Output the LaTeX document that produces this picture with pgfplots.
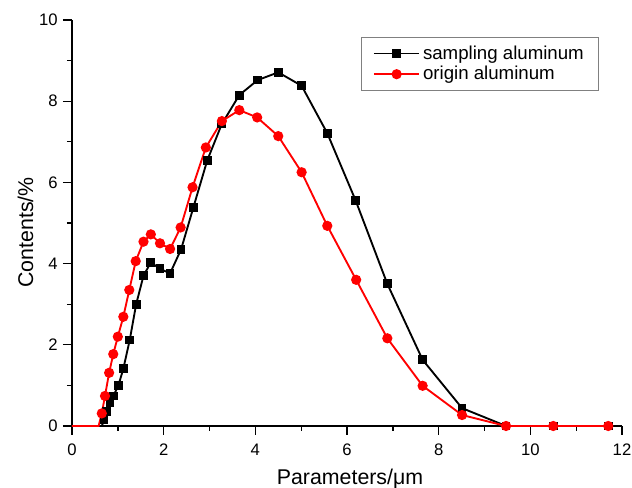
\documentclass[border=0pt]{standalone}
\usepackage{fontspec}
\setmainfont{Liberation Sans}
\usepackage{pgfplots}
\pgfplotsset{compat=1.18}
\begin{document}
\begin{tikzpicture}
\useasboundingbox (-54pt,-46.5pt) rectangle (420pt,319.5pt);
\begin{axis}[
  at={(0,0)}, anchor=south west,
  scale only axis,
  width=412.5pt, height=304.5pt,
  xmin=0, xmax=12, ymin=0, ymax=10,
  axis lines=left,
  axis line style={line width=1.2pt, -},
  xtick={0,2,...,12}, ytick={0,2,...,10},
  minor xtick={1,3,...,11}, minor ytick={1,3,...,9},
  tick align=outside,
  major tick length=6.75pt, minor tick length=3.75pt,
  every tick/.style={black, line width=1pt},
  /pgf/number format/assume math mode=true,
  tick label style={font=\fontsize{12.5}{15}\selectfont},
  xticklabel shift=3pt,
  yticklabel shift=0.5pt,
  xlabel={Parameters/μm},
  ylabel={Contents/\%},
  every axis x label/.style={at={(axis description cs:0.5055,-0.1453)}, anchor=base, inner sep=0pt, font=\fontsize{16}{19}\selectfont},
  every axis y label/.style={at={(axis description cs:-0.0709,0.4766)}, anchor=base, rotate=90, inner sep=0pt, font=\fontsize{16}{19}\selectfont},
  legend style={at={(0.958,0.958)}, anchor=north east, draw=gray, line width=0.6pt,
    font=\fontsize{14}{16}\selectfont, inner xsep=9pt, inner ysep=5pt, row sep=1.5pt,
    nodes={inner ysep=1.2pt}},
  legend image code/.code={\draw[mark repeat=2,mark phase=2] plot coordinates {(0cm,0cm) (0.6cm,0cm) (1.2cm,0cm)};},
  legend cell align=left,
  clip=false,
]
\addplot[black, line width=1.4pt, mark=square*, mark size=2.6pt, mark options={solid}, mark phase=3, mark repeat=1] coordinates {
(0,0) (0.65,0) (0.70,0.15) (0.76,0.35) (0.83,0.57) (0.90,0.74) (1.01,0.99) (1.12,1.41)
(1.26,2.12) (1.40,3.00) (1.56,3.70) (1.72,4.03) (1.92,3.87) (2.14,3.76) (2.38,4.35)
(2.65,5.39) (2.95,6.54) (3.27,7.44) (3.65,8.15) (4.05,8.52) (4.50,8.71) (5.01,8.38)
(5.57,7.21) (6.19,5.55) (6.88,3.50) (7.65,1.63) (8.51,0.44) (9.47,0.0) (10.5,0) (11.7,0)
};
\addlegendentry{sampling aluminum}
\addplot[red, line width=1.4pt, mark=*, mark size=3.1pt, mark options={solid}, mark phase=3, mark repeat=1] coordinates {
(0,0) (0.58,0) (0.65,0.31) (0.72,0.74) (0.81,1.31) (0.90,1.77) (1.00,2.20) (1.12,2.69)
(1.25,3.35) (1.39,4.06) (1.56,4.54) (1.72,4.72) (1.92,4.50) (2.14,4.36) (2.37,4.89)
(2.63,5.88) (2.92,6.86) (3.27,7.51) (3.65,7.78) (4.04,7.60) (4.50,7.14) (5.01,6.25)
(5.57,4.93) (6.20,3.60) (6.88,2.16) (7.65,0.99) (8.51,0.27) (9.47,0) (10.5,0) (11.7,0)
};
\addlegendentry{origin aluminum}
\end{axis}
\end{tikzpicture}
\end{document}
